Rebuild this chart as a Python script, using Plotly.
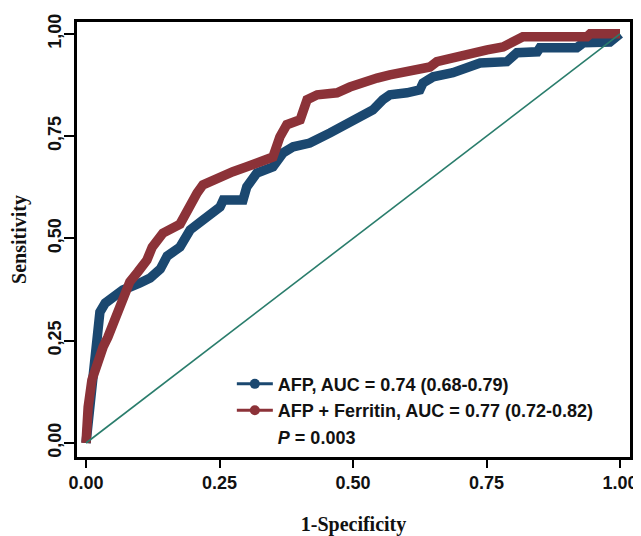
import plotly.graph_objects as go

# ROC curve data
afp_fpr = [0.0, 0.004, 0.009, 0.013, 0.017, 0.021, 0.026, 0.036, 0.051, 0.069, 0.101, 0.120,
           0.139, 0.152, 0.176, 0.195, 0.219, 0.251, 0.257, 0.294, 0.301, 0.320, 0.350, 0.369,
           0.388, 0.419, 0.457, 0.489, 0.513, 0.537, 0.556, 0.569, 0.601, 0.625, 0.631, 0.650,
           0.687, 0.719, 0.738, 0.788, 0.807, 0.845, 0.850, 0.919, 0.931, 0.981, 1.0]
afp_tpr = [0.0, 0.056, 0.105, 0.171, 0.227, 0.284, 0.320, 0.342, 0.357, 0.374, 0.391, 0.403,
           0.425, 0.457, 0.479, 0.521, 0.545, 0.577, 0.594, 0.594, 0.626, 0.660, 0.675, 0.709,
           0.724, 0.733, 0.758, 0.778, 0.797, 0.814, 0.839, 0.851, 0.856, 0.863, 0.880, 0.895,
           0.905, 0.919, 0.929, 0.932, 0.954, 0.956, 0.966, 0.966, 0.978, 0.980, 1.0]

fer_fpr = [0.0, 0.002, 0.004, 0.011, 0.021, 0.032, 0.041, 0.051, 0.060, 0.069, 0.082, 0.097,
           0.114, 0.124, 0.144, 0.176, 0.189, 0.208, 0.219, 0.245, 0.275, 0.301, 0.331, 0.350,
           0.363, 0.376, 0.401, 0.414, 0.433, 0.470, 0.494, 0.513, 0.545, 0.569, 0.607, 0.644,
           0.657, 0.682, 0.719, 0.751, 0.781, 0.800, 0.818, 0.938, 0.944, 1.0]
fer_tpr = [0.0, 0.056, 0.088, 0.154, 0.203, 0.235, 0.259, 0.293, 0.333, 0.357, 0.394, 0.418,
           0.447, 0.479, 0.513, 0.535, 0.570, 0.611, 0.631, 0.648, 0.663, 0.675, 0.689, 0.699,
           0.748, 0.778, 0.790, 0.839, 0.851, 0.856, 0.870, 0.880, 0.892, 0.900, 0.907, 0.919,
           0.932, 0.941, 0.949, 0.961, 0.968, 0.980, 0.993, 0.993, 1.0, 1.0]

ref_line = [0.0, 1.0]

names = ["AFP, AUC = 0.74 (0.68-0.79)", "AFP + Ferritin, AUC = 0.77 (0.72-0.82)", "<i>P</i> = 0.003"]
x_ticks = [0, 0.25, 0.5, 0.75, 1.0]
x_ticktext = ["0.00", "0.25", "0.50", "0.75", "1.00"]
y_ticktext = ["0,00", "0,25", "0,50", "0,75", "1,00"]

BLUE = "#1b4870"
RED = "#8c3238"
TEAL = "#2a7d6c"

fig = go.Figure()
fig.add_trace(go.Scatter(x=afp_fpr, y=afp_tpr, mode="lines", showlegend=False,
                         line=dict(color=BLUE, width=9.5), hoverinfo="skip"))
fig.add_trace(go.Scatter(x=fer_fpr, y=fer_tpr, mode="lines", showlegend=False,
                         line=dict(color=RED, width=9.5), hoverinfo="skip"))
fig.add_trace(go.Scatter(x=ref_line, y=ref_line, mode="lines", showlegend=False,
                         line=dict(color=TEAL, width=1.6)))
# legend entries
fig.add_trace(go.Scatter(x=[None], y=[None], mode="lines+markers", name=names[0],
                         line=dict(color=BLUE, width=3), marker=dict(color=BLUE, size=10)))
fig.add_trace(go.Scatter(x=[None], y=[None], mode="lines+markers", name=names[1],
                         line=dict(color=RED, width=3), marker=dict(color=RED, size=10)))
fig.add_trace(go.Scatter(x=[None], y=[None], mode="lines", name=names[2],
                         line=dict(color="rgba(0,0,0,0)", width=0)))

fig.update_layout(
    width=633, height=528,
    margin=dict(l=69, r=11, t=14, b=79),
    paper_bgcolor="white", plot_bgcolor="white",
    legend=dict(x=0.28, y=0.21, xanchor="left", yanchor="top",
                bgcolor="rgba(0,0,0,0)", borderwidth=0,
                font=dict(family="Liberation Sans", size=18, color="#111", weight="bold"),
                tracegroupgap=0, itemwidth=36),
)
fig.update_xaxes(range=[-0.0169, 1.0187], tickvals=x_ticks, ticktext=x_ticktext, automargin=False,
                 showgrid=False, zeroline=False, showline=True, mirror=True,
                 linecolor="black", linewidth=2.5, ticks="outside", ticklen=8, tickwidth=2,
                 tickcolor="black",
                 tickfont=dict(family="Liberation Sans", size=18, color="#111", weight="bold"),
                 title=dict(text="1-Specificity", standoff=27,
                            font=dict(family="Liberation Serif", size=20, color="#111", weight="bold")))
fig.update_yaxes(range=[-0.0342, 1.029], tickvals=x_ticks, ticktext=y_ticktext, automargin=False,
                 showgrid=False, zeroline=False, showline=True, mirror=True,
                 linecolor="black", linewidth=2.5, ticks="outside", ticklen=10, tickwidth=2,
                 tickcolor="black", tickangle=-90, ticklabelstandoff=-4,
                 tickfont=dict(family="Liberation Sans", size=18, color="#111", weight="bold"),
                 title=dict(text="Sensitivity", standoff=21,
                            font=dict(family="Liberation Serif", size=20, color="#111", weight="bold")))

fig.write_html("out.html")
